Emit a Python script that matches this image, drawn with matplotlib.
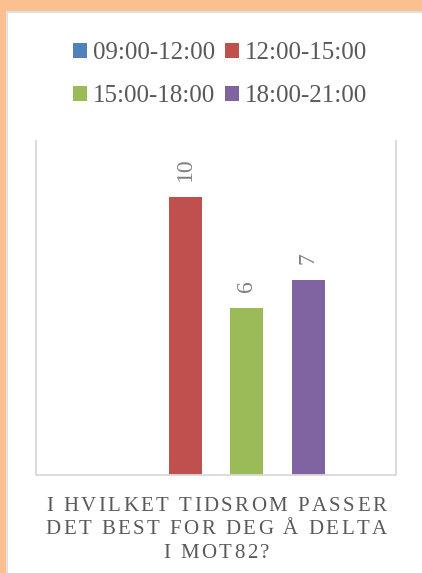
import matplotlib
matplotlib.use("Agg")
import matplotlib.pyplot as plt
from matplotlib.patches import Rectangle, Patch

series = ["09:00-12:00", "12:00-15:00", "15:00-18:00", "18:00-21:00"]
values = [0, 10, 6, 7]
colors = ["#4F81BD", "#C0504D", "#9BBB59", "#8064A2"]
title_lines = ["I HVILKET TIDSROM PASSER", "DET BEST FOR DEG Å DELTA", "I MOT82?"]

W, H = 422, 573
DPI = 100
fig = plt.figure(figsize=(W / DPI, H / DPI), dpi=DPI)
fig.patch.set_facecolor("white")

FONT = "Liberation Serif"
TXT = "#595959"

def fx(px):
    return px / W

def fy(py):
    return 1 - py / H

# orange frame (top & left)
fig.patches.append(Rectangle((0, fy(11)), 1, 11 / H, transform=fig.transFigure,
                             facecolor="#FAC090", edgecolor="none", zorder=0))
fig.patches.append(Rectangle((0, 0), 6 / W, 1, transform=fig.transFigure,
                             facecolor="#FAC090", edgecolor="none", zorder=0))
fig.patches.append(Rectangle((6 / W, fy(12.5)), 1, 1.5 / H, transform=fig.transFigure,
                             facecolor="#E0E0E0", edgecolor="none", zorder=0))
fig.patches.append(Rectangle((6 / W, 0), 1.5 / W, fy(11), transform=fig.transFigure,
                             facecolor="#E0E0E0", edgecolor="none", zorder=0))

ax = fig.add_axes([fx(36), fy(475), fx(396) - fx(36), fy(141) - fy(475)])
ax.set_facecolor("white")

pitch = 1.0
width = 33 / 61.5
half = (360 / 61.5) / 2
for i, (s, v, c) in enumerate(zip(series, values, colors)):
    x = (i - 1.5) * pitch
    ax.bar(x, v, width=width, color=c, label=s, zorder=2)
    if v > 0:
        ax.annotate(str(v), (x, v), xytext=(0, 11.5), textcoords="offset points",
                    rotation=90, ha="center", va="bottom", fontsize=17,
                    color="#808080", family=FONT)

ax.set_xlim(-half, half)
ax.set_ylim(0, 12)
ax.set_xticks([])
ax.set_yticks([])
for sp in ["left", "right", "bottom"]:
    ax.spines[sp].set_color("#D9D9D9")
    ax.spines[sp].set_linewidth(1.3)
ax.spines["top"].set_visible(False)

# legend row-major: reorder for matplotlib's column-major filling
order = [0, 2, 1, 3]
handles = [Patch(facecolor=colors[k], edgecolor="none") for k in order]
labels = [series[k] for k in order]
leg = fig.legend(handles, labels, loc="center", bbox_to_anchor=(fx(220), fy(74.5)),
                 ncol=2, frameon=False, prop={"family": FONT, "size": 18},
                 handlelength=0.55, handleheight=0.55, handletextpad=0.25,
                 columnspacing=0.4, labelspacing=0.85, borderpad=0)
for t in leg.get_texts():
    t.set_color(TXT)

# title with letter spacing
fig.canvas.draw()
renderer = fig.canvas.get_renderer()
TS = 15
target_w = 340
line_y = [511, 534, 558]

def char_widths(line):
    ws = []
    for ch in line:
        t = fig.text(0, 0, ch if ch != " " else "n", family=FONT, fontsize=TS)
        bb = t.get_window_extent(renderer)
        ws.append(bb.width if ch != " " else bb.width * 0.5)
        t.remove()
    return ws

w0 = char_widths(title_lines[0])
tracking = (target_w - sum(w0)) / (len(title_lines[0]) - 1)
for line, yy in zip(title_lines, line_y):
    widths = char_widths(line)
    total = sum(widths) + tracking * (len(line) - 1)
    x = 216 - total / 2
    for ch, w in zip(line, widths):
        if ch != " ":
            fig.text(fx(x), fy(yy), ch, family=FONT, fontsize=TS, color=TXT,
                     ha="left", va="baseline")
        x += w + tracking

fig.savefig("out.png", dpi=DPI, facecolor="white")
